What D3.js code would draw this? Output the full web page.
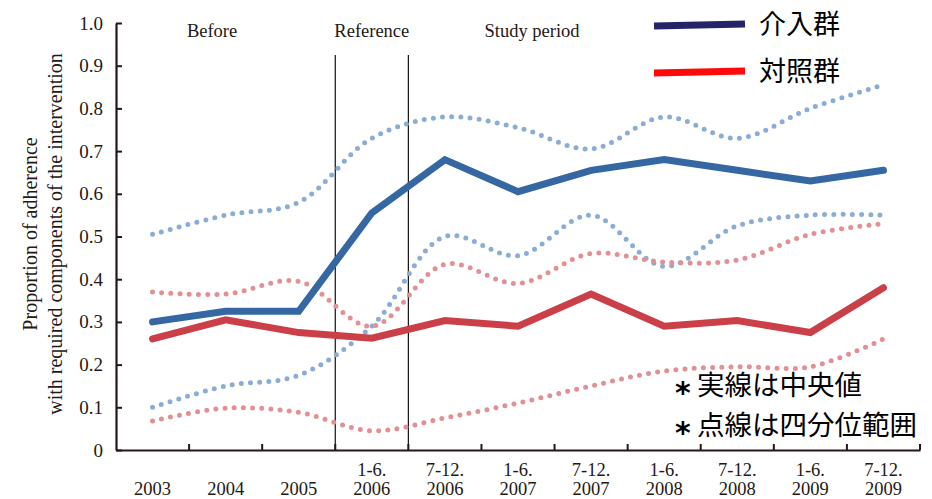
<!DOCTYPE html>
<html>
<head>
<meta charset="utf-8">
<script src="https://cdn.jsdelivr.net/npm/d3@7"></script>
<style>
  body { margin: 0; background: #fff; }
  svg { display: block; }
</style>
</head>
<body>
<svg id="chart" width="932" height="499"></svg>
<script>
// Periods along the x axis (first line / second line of each label)
const periods = ["2003", "2004", "2005", "1-6.\n2006", "7-12.\n2006", "1-6.\n2007",
                 "7-12.\n2007", "1-6.\n2008", "7-12.\n2008", "1-6.\n2009", "7-12.\n2009"];

// Intervention group: median and interquartile bounds
const intMedian = [0.30, 0.325, 0.325, 0.555, 0.68, 0.605, 0.655, 0.68, 0.655, 0.63, 0.655];
const intUpper  = [0.505, 0.55, 0.58, 0.73, 0.78, 0.755, 0.705, 0.78, 0.73, 0.80, 0.855];
const intLower  = [0.10, 0.15, 0.175, 0.29, 0.50, 0.455, 0.55, 0.43, 0.525, 0.55, 0.55];

// Control group: median and interquartile bounds
const ctlMedian = [0.26, 0.305, 0.275, 0.262, 0.303, 0.29, 0.365, 0.29, 0.303, 0.275, 0.38];
const ctlUpper  = [0.37, 0.365, 0.395, 0.29, 0.435, 0.39, 0.46, 0.44, 0.445, 0.505, 0.53];
const ctlLower  = [0.068, 0.098, 0.088, 0.045, 0.075, 0.11, 0.15, 0.185, 0.195, 0.195, 0.26];

const yTicks = [0, 0.1, 0.2, 0.3, 0.4, 0.5, 0.6, 0.7, 0.8, 0.9, 1.0];
const phaseLabels = ["Before", "Reference", "Study period"];
const legendItems = [
  { name: "介入群", color: "#262469" },
  { name: "対照群", color: "#ff0a0a" }
];
const notes = ["実線は中央値", "点線は四分位範囲"];

const svg = d3.select("#chart");
const serif = "'Liberation Serif', 'DejaVu Serif', serif";
const cjk = "'Noto Sans CJK JP', 'Noto Sans', sans-serif";
const ink = "#231815";

const x = d3.scaleBand().domain(d3.range(periods.length)).range([116, 920]).padding(0);
const y = d3.scaleLinear().domain([0, 1]).range([450, 23]);
const cx = i => x(i) + x.bandwidth() / 2;

// Phase separators at the reference window boundaries
[3, 4].forEach(i => {
  svg.append("line")
    .attr("x1", x(i)).attr("x2", x(i))
    .attr("y1", 55).attr("y2", y(0))
    .attr("stroke", "#111").attr("stroke-width", 1.2);
});

// Phase headings
const phaseX = [x(1) + 23, (x(3) + x(4)) / 2, cx(5) + 14];
phaseLabels.forEach((t, i) => {
  svg.append("text")
    .attr("x", phaseX[i]).attr("y", 37)
    .attr("text-anchor", "middle")
    .attr("font-family", serif).attr("font-size", 18.5).attr("fill", ink)
    .text(t);
});

// Axes
const yAxis = d3.axisLeft(y).tickValues(yTicks).tickSizeInner(-6).tickSizeOuter(0)
  .tickPadding(13)
  .tickFormat(d => d === 0 ? "0" : d3.format(".1f")(d));
const gy = svg.append("g").attr("transform", "translate(116,0)").call(yAxis);
gy.attr("font-family", serif);
gy.select(".domain").attr("stroke", ink).attr("stroke-width", 2.2);
gy.selectAll(".tick line").attr("stroke", ink).attr("stroke-width", 2);
gy.selectAll(".tick text").attr("font-family", serif).attr("font-size", 19)
  .attr("fill", ink);

const xAxis = d3.axisBottom(x).tickSize(0).tickFormat(() => "");
const gx = svg.append("g").attr("transform", `translate(0,${y(0)})`).call(xAxis);
gx.select(".domain").attr("stroke", ink).attr("stroke-width", 2.2);
// Category boundary ticks pointing up
const bounds = d3.range(1, periods.length + 1).map(i => i < periods.length ? x(i) : 920);
svg.append("g").selectAll("line").data(bounds).join("line")
  .attr("x1", d => d).attr("x2", d => d)
  .attr("y1", y(0)).attr("y2", y(0) - 6)
  .attr("stroke", ink).attr("stroke-width", 2);

// Category labels (one or two lines)
periods.forEach((p, i) => {
  const lines = p.split("\n");
  const t = svg.append("text")
    .attr("text-anchor", "middle")
    .attr("font-family", serif).attr("font-size", 18.5).attr("fill", ink);
  if (lines.length === 1) {
    t.append("tspan").attr("x", cx(i)).attr("y", 495).text(lines[0]);
  } else {
    t.append("tspan").attr("x", cx(i)).attr("y", 476).text(lines[0]);
    t.append("tspan").attr("x", cx(i)).attr("y", 495).text(lines[1]);
  }
});

// Y axis title
const yt = svg.append("text")
  .attr("transform", "translate(0,234) rotate(-90)")
  .attr("text-anchor", "middle")
  .attr("font-family", serif).attr("font-size", 20).attr("fill", ink);
yt.append("tspan").attr("x", 0).attr("y", 37).text("Proportion of adherence");
yt.append("tspan").attr("x", 0).attr("y", 62).text("with required components of the intervention");

// Series
const straight = d3.line().x((d, i) => cx(i)).y(d => y(d));
const smooth = d3.line().x((d, i) => cx(i)).y(d => y(d)).curve(d3.curveCatmullRom.alpha(0.5));

const dotted = [
  { data: intUpper, color: "#8badd5" },
  { data: intLower, color: "#8badd5" },
  { data: ctlUpper, color: "#e29094" },
  { data: ctlLower, color: "#e29094" }
];
dotted.forEach(s => {
  svg.append("path").datum(s.data)
    .attr("d", smooth)
    .attr("fill", "none")
    .attr("stroke", s.color)
    .attr("stroke-width", 5)
    .attr("stroke-linecap", "round")
    .attr("stroke-dasharray", "0 9.2");
});

[{ data: ctlMedian, color: "#cb3f48" }, { data: intMedian, color: "#3567a3" }].forEach(s => {
  svg.append("path").datum(s.data)
    .attr("d", straight)
    .attr("fill", "none")
    .attr("stroke", s.color)
    .attr("stroke-width", 7)
    .attr("stroke-linecap", "round")
    .attr("stroke-linejoin", "miter");
});

// Legend
legendItems.forEach((l, i) => {
  const ly = 25 + i * 47;
  svg.append("line")
    .attr("x1", 654).attr("x2", 745)
    .attr("y1", ly + 1).attr("y2", ly - 1)
    .attr("stroke", l.color).attr("stroke-width", 7);
  svg.append("text")
    .attr("x", 759).attr("y", ly + 9)
    .attr("font-family", cjk).attr("font-size", 27).attr("fill", "#000")
    .text(l.name);
});

// Notes, each led by a bold asterisk
notes.forEach((n, i) => {
  const ny = 395 + i * 40;
  svg.append("text")
    .attr("x", 675).attr("y", ny + 8)
    .attr("font-family", "'DejaVu Sans', sans-serif").attr("font-size", 30)
    .attr("font-weight", "bold").attr("fill", "#000")
    .text("*");
  svg.append("text")
    .attr("x", 697).attr("y", ny)
    .attr("font-family", cjk).attr("font-size", 27.5).attr("fill", "#000")
    .text(n);
});
</script>
</body>
</html>
